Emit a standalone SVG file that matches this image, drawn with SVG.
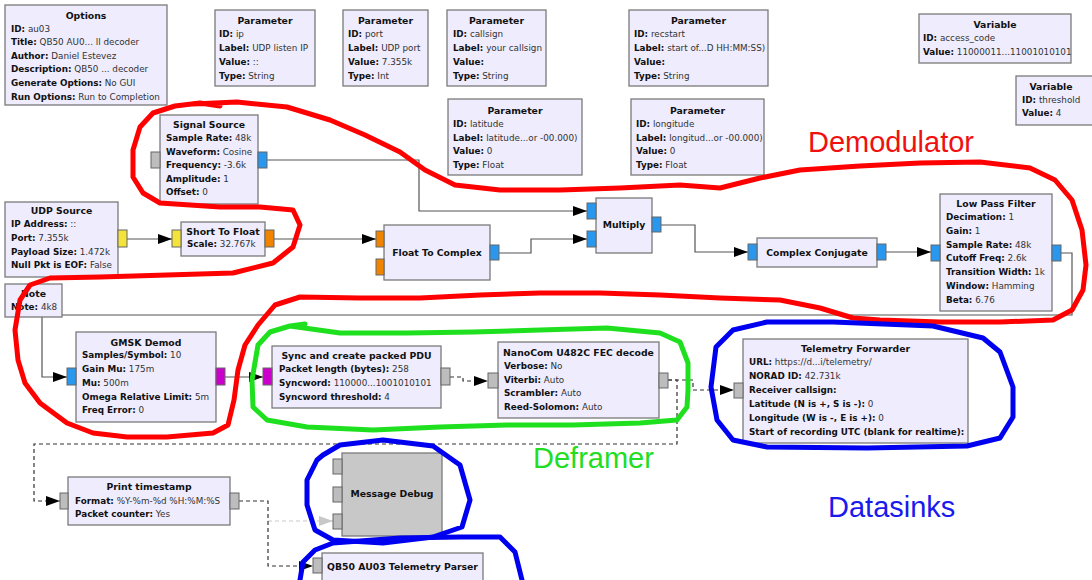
<svg xmlns="http://www.w3.org/2000/svg" width="1092" height="580" viewBox="0 0 1092 580">
<defs>
<style>
.blk{fill:#eeecfd;stroke:#7a7a7a;stroke-width:1.3}
.dis{fill:#c8c8c8;stroke:#7a7a7a;stroke-width:1.3}
.t{font-family:"DejaVu Sans",sans-serif;font-size:9.3px;font-weight:bold;fill:#111;text-anchor:middle;dominant-baseline:central}
.r{font-family:"DejaVu Sans",sans-serif;font-size:8.8px;fill:#333;dominant-baseline:central}
.r tspan.k{font-weight:bold;fill:#111}
.pb{fill:#2a97ee;stroke:#666;stroke-width:1}
.py{fill:#f3e33a;stroke:#666;stroke-width:1}
.po{fill:#f08400;stroke:#666;stroke-width:1}
.pm{fill:#cc00cc;stroke:#666;stroke-width:1}
.pg{fill:#bdbdbd;stroke:#666;stroke-width:1}
.c{fill:none;stroke:#555;stroke-width:1.2}
.d{fill:none;stroke:#333;stroke-width:1.2;stroke-dasharray:4 3}
.dl{fill:none;stroke:#c8c8c8;stroke-width:1.2;stroke-dasharray:4 3}
.ann{fill:none;stroke-width:5;stroke-linejoin:round;stroke-linecap:round}
.lab{font-family:"Liberation Sans",Arial,sans-serif;font-size:29px}
</style>
<marker id="ar" markerUnits="userSpaceOnUse" markerWidth="14" markerHeight="10" refX="14" refY="5" orient="auto"><path d="M0,0 L14,5 L0,10 z" fill="#000"/></marker>
<marker id="arl" markerUnits="userSpaceOnUse" markerWidth="14" markerHeight="10" refX="14" refY="5" orient="auto"><path d="M0,0 L14,5 L0,10 z" fill="#c8c8c8"/></marker>
</defs>
<rect width="1092" height="580" fill="#fff"/>

<g id="connectors">
<path class="c" d="M127,239 H172" marker-end="url(#ar)"/>
<path class="c" d="M274,239 H376" marker-end="url(#ar)"/>
<path class="c" d="M267,160 H419 V211 H587" marker-end="url(#ar)"/>
<path class="c" d="M499,253 H531 V239 H587" marker-end="url(#ar)"/>
<path class="c" d="M661,225 H695 V252 H748" marker-end="url(#ar)"/>
<path class="c" d="M886,252 H931" marker-end="url(#ar)"/>
<path class="c" d="M1061,253 H1072 V315 H42 V377 H67" marker-end="url(#ar)"/>
<path class="c" d="M225,377 H263" marker-end="url(#ar)"/>
<path class="d" d="M450,377 H463 V381 H488" marker-end="url(#ar)"/>
<path class="d" d="M668,380 H693 V390 H734" marker-end="url(#ar)"/>
<path class="d" d="M668,380 H677 V444 H34 V501 H60" marker-end="url(#ar)"/>
<path class="dl" d="M268,521 H333" marker-end="url(#arl)"/>
<path class="d" d="M239,501 H268 V566 H313" marker-end="url(#ar)"/>
</g>

<g id="options"><rect class="blk" x="5" y="5" width="162" height="100"/>
<text class="t" x="86" y="15">Options</text>
<text class="r" x="11" y="29"><tspan class="k">ID:</tspan> au03</text>
<text class="r" x="11" y="42"><tspan class="k">Title:</tspan> QB50 AU0... ll decoder</text>
<text class="r" x="11" y="56"><tspan class="k">Author:</tspan> Daniel Estevez</text>
<text class="r" x="11" y="69"><tspan class="k">Description:</tspan> QB50 ... decoder</text>
<text class="r" x="11" y="83"><tspan class="k">Generate Options:</tspan> No GUI</text>
<text class="r" x="11" y="97"><tspan class="k">Run Options:</tspan> Run to Completion</text>
</g>

<g id="param_ip"><rect class="blk" x="215" y="10" width="100" height="76"/>
<text class="t" x="265" y="20">Parameter</text>
<text class="r" x="219" y="34"><tspan class="k">ID:</tspan> ip</text>
<text class="r" x="219" y="48"><tspan class="k">Label:</tspan> UDP listen IP</text>
<text class="r" x="219" y="62"><tspan class="k">Value:</tspan> ::</text>
<text class="r" x="219" y="76"><tspan class="k">Type:</tspan> String</text>
</g>
<g id="param_port"><rect class="blk" x="343" y="10" width="85" height="76"/>
<text class="t" x="385.5" y="20">Parameter</text>
<text class="r" x="348" y="34"><tspan class="k">ID:</tspan> port</text>
<text class="r" x="348" y="48"><tspan class="k">Label:</tspan> UDP port</text>
<text class="r" x="348" y="62"><tspan class="k">Value:</tspan> 7.355k</text>
<text class="r" x="348" y="76"><tspan class="k">Type:</tspan> Int</text>
</g>
<g id="param_callsign"><rect class="blk" x="447" y="10" width="99" height="76"/>
<text class="t" x="496.5" y="20">Parameter</text>
<text class="r" x="453" y="34"><tspan class="k">ID:</tspan> callsign</text>
<text class="r" x="453" y="48"><tspan class="k">Label:</tspan> your callsign</text>
<text class="r" x="453" y="62"><tspan class="k">Value:</tspan></text>
<text class="r" x="453" y="76"><tspan class="k">Type:</tspan> String</text>
</g>
<g id="param_recstart"><rect class="blk" x="629" y="10" width="139" height="76"/>
<text class="t" x="698.5" y="20">Parameter</text>
<text class="r" x="634" y="34"><tspan class="k">ID:</tspan> recstart</text>
<text class="r" x="634" y="48"><tspan class="k">Label:</tspan> start of...D HH:MM:SS)</text>
<text class="r" x="634" y="62"><tspan class="k">Value:</tspan></text>
<text class="r" x="634" y="76"><tspan class="k">Type:</tspan> String</text>
</g>
<g id="var_access_code"><rect class="blk" x="919" y="14" width="152" height="49"/>
<text class="t" x="995" y="24">Variable</text>
<text class="r" x="923" y="38"><tspan class="k">ID:</tspan> access_code</text>
<text class="r" x="923" y="52"><tspan class="k">Value:</tspan> 11000011...11001010101</text>
</g>
<g id="var_threshold"><rect class="blk" x="1016" y="76" width="80" height="49"/>
<text class="t" x="1051" y="86">Variable</text>
<text class="r" x="1022" y="100"><tspan class="k">ID:</tspan> threshold</text>
<text class="r" x="1022" y="113"><tspan class="k">Value:</tspan> 4</text>
</g>
<g id="param_latitude"><rect class="blk" x="448" y="99" width="134" height="76"/>
<text class="t" x="515" y="110">Parameter</text>
<text class="r" x="453" y="124"><tspan class="k">ID:</tspan> latitude</text>
<text class="r" x="453" y="138"><tspan class="k">Label:</tspan> latitude...or -00.000)</text>
<text class="r" x="453" y="151"><tspan class="k">Value:</tspan> 0</text>
<text class="r" x="453" y="165"><tspan class="k">Type:</tspan> Float</text>
</g>
<g id="param_longitude"><rect class="blk" x="631" y="99" width="133" height="76"/>
<text class="t" x="697.5" y="110">Parameter</text>
<text class="r" x="636" y="124"><tspan class="k">ID:</tspan> longitude</text>
<text class="r" x="636" y="138"><tspan class="k">Label:</tspan> longitud...or -00.000)</text>
<text class="r" x="636" y="151"><tspan class="k">Value:</tspan> 0</text>
<text class="r" x="636" y="165"><tspan class="k">Type:</tspan> Float</text>
</g>

<g id="signal_source"><rect class="blk" x="160" y="115" width="98" height="89"/>
<rect class="pg" x="151" y="152" width="9" height="16"/><rect class="pb" x="258" y="152" width="9" height="16"/>
<text class="t" x="209" y="124">Signal Source</text>
<text class="r" x="166" y="138"><tspan class="k">Sample Rate:</tspan> 48k</text>
<text class="r" x="166" y="152"><tspan class="k">Waveform:</tspan> Cosine</text>
<text class="r" x="166" y="165"><tspan class="k">Frequency:</tspan> -3.6k</text>
<text class="r" x="166" y="179"><tspan class="k">Amplitude:</tspan> 1</text>
<text class="r" x="166" y="192"><tspan class="k">Offset:</tspan> 0</text>
</g>
<g id="udp_source"><rect class="blk" x="5" y="202" width="113" height="75"/>
<rect class="py" x="118" y="230" width="9" height="17"/>
<text class="t" x="61.5" y="210">UDP Source</text>
<text class="r" x="11" y="224"><tspan class="k">IP Address:</tspan> ::</text>
<text class="r" x="11" y="238"><tspan class="k">Port:</tspan> 7.355k</text>
<text class="r" x="11" y="252"><tspan class="k">Payload Size:</tspan> 1.472k</text>
<text class="r" x="11" y="265"><tspan class="k">Null Pkt is EOF:</tspan> False</text>
</g>
<g id="short_to_float"><rect class="blk" x="181" y="222" width="84" height="34"/>
<rect class="py" x="172" y="230" width="9" height="17"/><rect class="po" x="265" y="230" width="9" height="17"/>
<text class="t" x="223" y="231">Short To Float</text>
<text class="r" x="187" y="244"><tspan class="k">Scale:</tspan> 32.767k</text>
</g>
<g id="float_to_complex"><rect class="blk" x="384" y="225" width="106" height="55"/>
<rect class="po" x="376" y="231" width="8" height="16"/><rect class="po" x="376" y="259" width="8" height="16"/><rect class="pb" x="490" y="245" width="9" height="15"/>
<text class="t" x="437" y="252">Float To Complex</text>
</g>
<g id="multiply"><rect class="blk" x="596" y="198" width="56" height="55"/>
<rect class="pb" x="587" y="203" width="9" height="16"/><rect class="pb" x="587" y="231" width="9" height="16"/><rect class="pb" x="652" y="217" width="9" height="15"/>
<text class="t" x="624" y="224">Multiply</text>
</g>
<g id="complex_conjugate"><rect class="blk" x="757" y="238" width="120" height="29"/>
<rect class="pb" x="748" y="244" width="9" height="16"/><rect class="pb" x="877" y="244" width="9" height="16"/>
<text class="t" x="817" y="252">Complex Conjugate</text>
</g>
<g id="low_pass_filter"><rect class="blk" x="940" y="194" width="112" height="117"/>
<rect class="pb" x="931" y="245" width="9" height="16"/><rect class="pb" x="1052" y="245" width="9" height="16"/>
<text class="t" x="996" y="203">Low Pass Filter</text>
<text class="r" x="946" y="217"><tspan class="k">Decimation:</tspan> 1</text>
<text class="r" x="946" y="231"><tspan class="k">Gain:</tspan> 1</text>
<text class="r" x="946" y="245"><tspan class="k">Sample Rate:</tspan> 48k</text>
<text class="r" x="946" y="258"><tspan class="k">Cutoff Freq:</tspan> 2.6k</text>
<text class="r" x="946" y="272"><tspan class="k">Transition Width:</tspan> 1k</text>
<text class="r" x="946" y="286"><tspan class="k">Window:</tspan> Hamming</text>
<text class="r" x="946" y="300"><tspan class="k">Beta:</tspan> 6.76</text>
</g>
<g id="note"><rect class="blk" x="5" y="284" width="57" height="33"/>
<text class="t" x="33.5" y="293">Note</text>
<text class="r" x="11" y="307"><tspan class="k">Note:</tspan> 4k8</text>
</g>
<g id="gmsk_demod"><rect class="blk" x="76" y="332" width="140" height="90"/>
<rect class="pb" x="67" y="368" width="9" height="17"/><rect class="pm" x="216" y="368" width="9" height="17"/>
<text class="t" x="146" y="342">GMSK Demod</text>
<text class="r" x="82" y="355"><tspan class="k">Samples/Symbol:</tspan> 10</text>
<text class="r" x="82" y="369"><tspan class="k">Gain Mu:</tspan> 175m</text>
<text class="r" x="82" y="383"><tspan class="k">Mu:</tspan> 500m</text>
<text class="r" x="82" y="397"><tspan class="k">Omega Relative Limit:</tspan> 5m</text>
<text class="r" x="82" y="410"><tspan class="k">Freq Error:</tspan> 0</text>
</g>
<g id="sync_pdu"><rect class="blk" x="272" y="346" width="169" height="62"/>
<rect class="pm" x="263" y="368" width="9" height="17"/><rect class="pg" x="441" y="368" width="9" height="17"/>
<text class="t" x="356.5" y="355">Sync and create packed PDU</text>
<text class="r" x="279" y="369"><tspan class="k">Packet length (bytes):</tspan> 258</text>
<text class="r" x="279" y="383"><tspan class="k">Syncword:</tspan> 110000...1001010101</text>
<text class="r" x="279" y="397"><tspan class="k">Syncword threshold:</tspan> 4</text>
</g>
<g id="nanocom_fec"><rect class="blk" x="498" y="342" width="161" height="76"/>
<rect class="pg" x="488" y="373" width="10" height="15"/><rect class="pg" x="659" y="373" width="9" height="15"/>
<text class="t" x="578.5" y="352">NanoCom U482C FEC decode</text>
<text class="r" x="504" y="366"><tspan class="k">Verbose:</tspan> No</text>
<text class="r" x="504" y="380"><tspan class="k">Viterbi:</tspan> Auto</text>
<text class="r" x="504" y="393"><tspan class="k">Scrambler:</tspan> Auto</text>
<text class="r" x="504" y="407"><tspan class="k">Reed-Solomon:</tspan> Auto</text>
</g>
<g id="telemetry_forwarder"><rect class="blk" x="743" y="339" width="225" height="104"/>
<rect class="pg" x="734" y="383" width="9" height="15"/>
<text class="t" x="855.5" y="348">Telemetry Forwarder</text>
<text class="r" x="749" y="362"><tspan class="k">URL:</tspan> https://d...i/telemetry/</text>
<text class="r" x="749" y="376"><tspan class="k">NORAD ID:</tspan> 42.731k</text>
<text class="r" x="749" y="390"><tspan class="k">Receiver callsign:</tspan></text>
<text class="r" x="749" y="404"><tspan class="k">Latitude (N is +, S is -):</tspan> 0</text>
<text class="r" x="749" y="418"><tspan class="k">Longitude (W is -, E is +):</tspan> 0</text>
<text class="r" x="749" y="432"><tspan class="k">Start of recording UTC (blank for realtime):</tspan></text>
</g>
<g id="print_timestamp"><rect class="blk" x="68" y="477" width="162" height="48"/>
<rect class="pg" x="60" y="493" width="8" height="16"/><rect class="pg" x="230" y="493" width="9" height="16"/>
<text class="t" x="149" y="486">Print timestamp</text>
<text class="r" x="75" y="501"><tspan class="k">Format:</tspan> %Y-%m-%d %H:%M:%S</text>
<text class="r" x="75" y="514"><tspan class="k">Packet counter:</tspan> Yes</text>
</g>
<g id="message_debug"><rect class="dis" x="342" y="453" width="100" height="83"/>
<rect class="pg" x="333" y="459" width="9" height="15"/><rect class="pg" x="333" y="487" width="9" height="15"/><rect class="pg" x="333" y="514" width="9" height="15"/>
<text class="t" x="392" y="493">Message Debug</text>
</g>
<g id="telemetry_parser"><rect class="blk" x="322" y="553" width="161" height="40"/>
<rect class="pg" x="313" y="558" width="9" height="15"/>
<text class="t" x="402.5" y="566">QB50 AU03 Telemetry Parser</text>
</g>

<g id="annotations">
<polyline class="ann" stroke="#f00" points="193,104 237,102 287,107 330,120 365,135 400,152 425,170 455,185 500,190 560,190 620,188 680,185 720,188 760,178 800,170 860,166 920,163 980,162 1030,168 1055,180 1072,200 1082,230 1086,265 1083,290 1072,310 1053,320 1000,322 940,322 880,320 853,318 820,308 780,300 720,298 660,295 600,293 540,293 480,295 420,298 360,298 300,297 275,305 258,325 245,345 238,370 234,400 228,425 213,433 167,437 127,437 93,433 67,423 40,403 25,383 18,360 15,330 20,300 30,285 50,278 100,277 167,275 233,273 273,263 293,247 300,225 293,210 260,207 220,207 160,203 143,193 133,177 133,150 140,127 153,113 175,106 200,103 220,106"/>
<polyline class="ann" stroke="#1fe01f" points="290,326 340,333 407,333 473,332 540,330 607,328 660,333 680,342 688,363 688,390 687,407 677,420 640,423 573,425 507,425 440,427 373,430 307,427 267,420 253,407 252,380 258,345 270,332 290,326 305,324"/>
<polyline class="ann" stroke="#0000f0" points="767,322 833,322 933,326 983,338 1000,352 1013,387 1013,417 1000,438 967,446 867,448 767,447 733,440 717,420 711,387 716,347 733,330 767,322"/>
<polyline class="ann" stroke="#0000f0" points="323,455 340,445 383,440 433,446 460,465 470,500 462,527 433,537 383,543 333,540 315,530 307,505 307,480 317,460 323,455"/>
<polyline class="ann" stroke="#0000f0" points="300,580 303,562 315,550 333,543 400,538 460,537 500,537 515,552 522,580"/>
<text class="lab" x="808" y="152" fill="#f01010">Demodulator</text>
<text class="lab" x="533" y="468" fill="#22dd22">Deframer</text>
<text class="lab" x="828" y="517" fill="#1a1aee">Datasinks</text>
</g>
</svg>
